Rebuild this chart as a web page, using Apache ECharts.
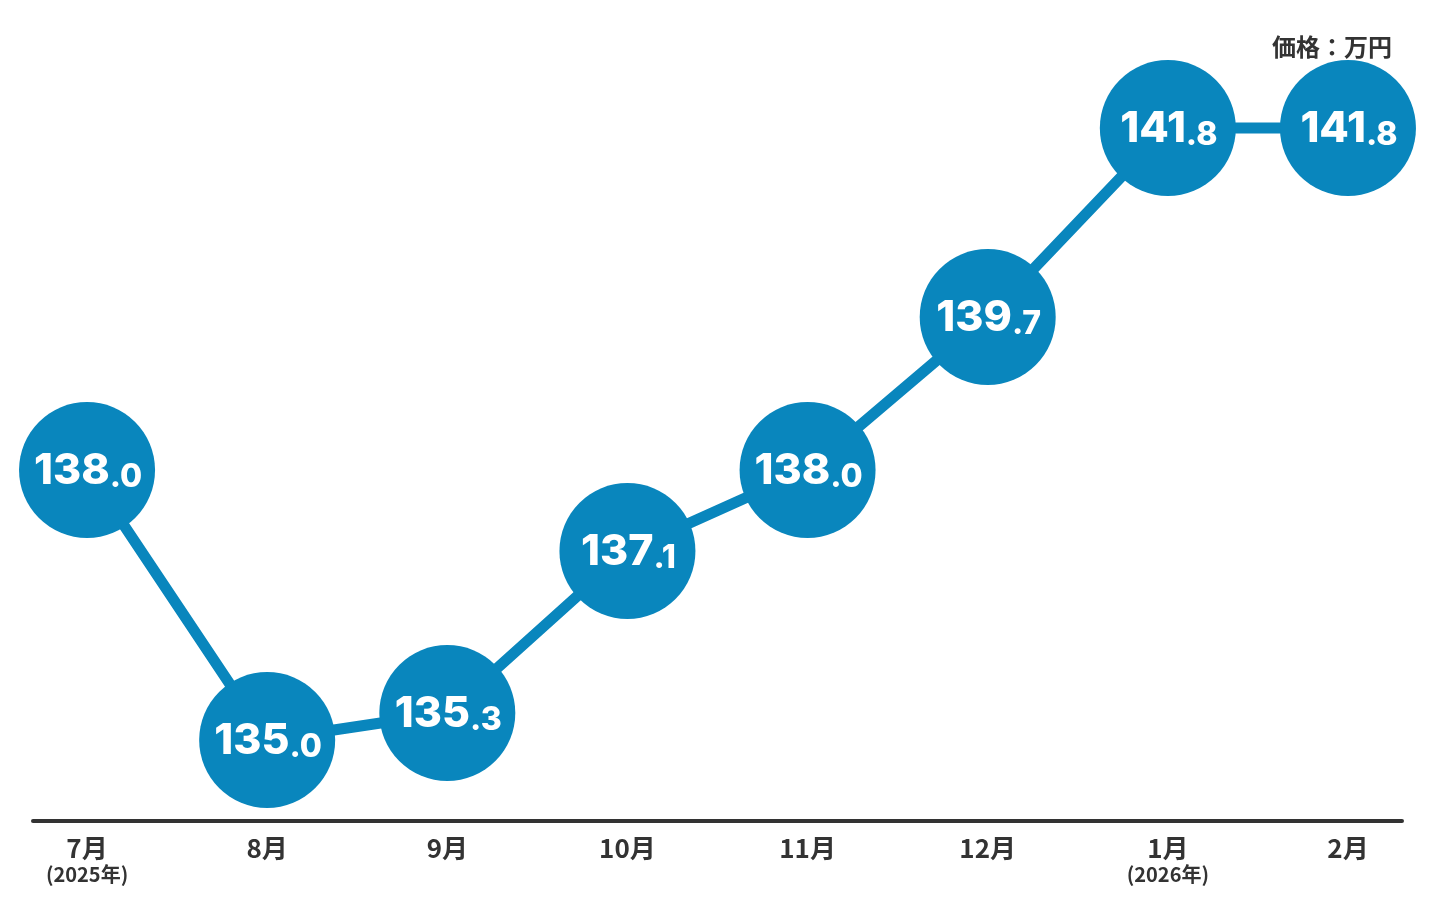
<!DOCTYPE html>
<html>
<head>
<meta charset="utf-8">
<script src="https://cdn.jsdelivr.net/npm/echarts@6/dist/echarts.min.js"></script>
<style>
  html, body { margin: 0; padding: 0; background: #fff; }
  #main { width: 1436px; height: 914px; }
</style>
</head>
<body>
<div id="main"></div>
<script>
// 月ラベル（下段は年）
var months = ["7月", "8月", "9月", "10月", "11月", "12月", "1月", "2月"];
var years = ["2025年", "", "", "", "", "", "2026年", ""];
// 価格（万円）
var prices = [138.0, 135.0, 135.3, 137.1, 138.0, 139.7, 141.8, 141.8];

var blue = "#0986bd";
var dark = "#333333";

var chart = echarts.init(document.getElementById("main"));

var option = {
  animation: false,
  backgroundColor: "#fff",
  title: {
    text: "価格：万円",
    right: 39,
    top: 30,
    textStyle: {
      fontFamily: "Noto Sans CJK JP",
      fontSize: 24,
      fontWeight: "bold",
      color: dark
    }
  },
  grid: {
    left: 33,
    right: 34,
    top: 20,
    bottom: 93
  },
  xAxis: {
    type: "value",
    min: -0.3,
    max: 7.3,
    splitLine: { show: false },
    axisTick: { show: false },
    axisLine: {
      onZero: false,
      lineStyle: { color: dark, width: 4 }
    },
    axisLabel: {
      customValues: [0, 1, 2, 3, 4, 5, 6, 7],
      margin: 12,
      formatter: function (v) {
        var i = Math.round(v);
        var s = "{m|" + months[i] + "}";
        if (years[i]) s += "\n{y|(" + years[i] + ")}";
        return s;
      },
      rich: {
        m: {
          fontFamily: "Noto Sans CJK JP",
          fontSize: 26,
          fontWeight: "bold",
          color: dark,
          lineHeight: 30
        },
        y: {
          fontFamily: "Noto Sans CJK JP",
          fontSize: 20,
          fontWeight: "bold",
          color: dark,
          lineHeight: 22
        }
      }
    }
  },
  yAxis: {
    type: "value",
    min: 134.1,
    max: 143,
    show: false
  },
  series: [
    {
      type: "line",
      data: prices.map(function (p, i) { return [i, p]; }),
      symbol: "circle",
      symbolSize: 136,
      itemStyle: { color: blue },
      lineStyle: { color: blue, width: 11 },
      label: {
        show: true,
        position: "inside",
        offset: [1, 0],
        formatter: function (p) {
          var s = p.value[1].toFixed(1);
          var parts = s.split(".");
          return "{a|" + parts[0] + "}{b|." + parts[1] + "}";
        },
        rich: {
          a: {
            fontFamily: "Inter",
            fontWeight: 800,
            fontSize: 43,
            color: "#fff",
            verticalAlign: "bottom",
            lineHeight: 46
          },
          b: {
            fontFamily: "Inter",
            fontWeight: 800,
            fontSize: 32,
            color: "#fff",
            verticalAlign: "bottom",
            lineHeight: 46
          }
        }
      }
    }
  ]
};

chart.setOption(option);
</script>
</body>
</html>
